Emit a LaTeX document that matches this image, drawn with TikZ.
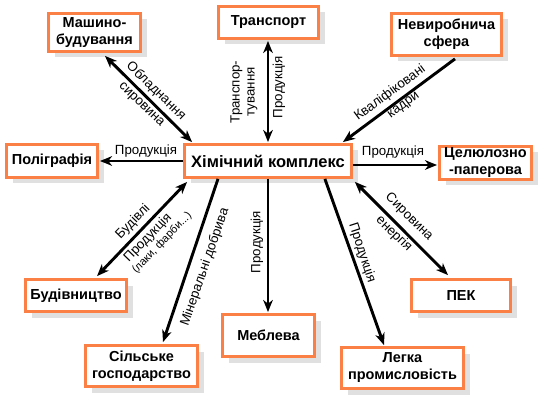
\documentclass[tikz,border=0pt]{standalone}
\usepackage{fontspec}
\setmainfont{Liberation Sans}
\usetikzlibrary{arrows.meta,shadows,calc}
\definecolor{boxorange}{RGB}{250,128,70}
\begin{document}
\begin{tikzpicture}[x=1pt,y=-1pt,
  box/.style={draw=boxorange, line width=2.8pt, fill=white, align=center, inner sep=0pt,
    font=\bfseries\fontsize{14.5}{17}\selectfont,
    drop shadow={shadow xshift=6pt, shadow yshift=-6pt, fill=black!12, opacity=1}},
  tip/.tip={Stealth[length=12pt,width=9.5pt,inset=3.5pt]},
  conn/.style={line width=2.9pt, -tip},
  biconn/.style={line width=2.9pt, tip-tip},
  lbl/.style={font=\fontsize{13.3}{15}\selectfont, inner sep=0pt, align=center},
]
\fill[white] (0,0) rectangle (544,401);
\useasboundingbox (0,0) rectangle (544,401);

% boxes
\node[box, minimum width=92pt, minimum height=38pt] (mash) at (94.5,32.5) {Машино-\\будування};
\node[box, minimum width=100pt, minimum height=32pt] (trans) at (268.5,22.5) {Транспорт};
\node[box, minimum width=110pt, minimum height=42pt] (nevyr) at (446.5,34.5) {Невиробнича\\сфера};
\node[box, minimum width=91pt, minimum height=33pt] (polig) at (52,161) {Поліграфія};
\node[box, minimum width=167pt, minimum height=33pt, font=\bfseries\fontsize{16.5}{18}\selectfont] (him) at (268,161) {Хімічний комплекс};
\node[box, minimum width=92pt, minimum height=33pt] (cel) at (485.5,163) {Целюлозно\\-паперова};
\node[box, minimum width=101pt, minimum height=32pt] (bud) at (76,295.5) {Будівництво};
\node[box, minimum width=112pt, minimum height=41pt] (sil) at (141.5,366) {Сільське\\господарство};
\node[box, minimum width=92pt, minimum height=42pt] (mebl) at (268.5,335.5) {Меблева};
\node[box, minimum width=122pt, minimum height=41pt] (legk) at (402.5,368) {Легка\\промисловість};
\node[box, minimum width=99pt, minimum height=32pt] (pek) at (461,295.5) {ПЕК};

% connectors
\draw[biconn] ($(mash.south)+(10.5,3)$) -- ($(him.north west)+(9,-1)$);
\draw[biconn] ($(trans.south)+(-0.5,1)$) -- ($(him.north)+(0,-1)$);
\draw[conn] ($(nevyr.south)+(8.5,2)$) -- ($(him.north east)+(-10,-1)$);
\draw[conn] (him.west) -- ($(polig.east)+(1,0)$);
\draw[conn] ($(him.east)+(0,4)$) -- ($(cel.west)+(-1,2)$);
\draw[biconn] ($(him.south east)+(2,3)$) -- ($(pek.north)+(-13,-3)$);
\draw[conn] ($(him.south east)+(-28,0)$) -- ($(legk.north)+(-18.5,-1)$);
\draw[conn] (him.south) -- ($(mebl.north)+(-0.5,-1)$);
\draw[conn] ($(him.south)+(-50,0)$) -- ($(sil.north)+(21.5,-2)$);
\draw[biconn] ($(him.south west)+(4,3)$) -- ($(bud.north)+(21,-2)$);

% labels
\node[lbl, rotate=-44] (l1a) at (156,91) {Обладнання};
\node[lbl, rotate=-44] (l1b) at (141,105) {сировина};
\node[lbl, rotate=90] (l2a) at (244,92) {Транспор-\\тування};
\node[lbl, rotate=90] (l2b) at (279,87) {Продукція};
\node[lbl, rotate=36.5] (l3a) at (390,93) {Кваліфіковані};
\node[lbl, rotate=36.5] (l3b) at (404,106) {кадри};
\node[lbl] (l4) at (146,151) {Продукція};
\node[lbl] (l5) at (393,152) {Продукція};
\node[lbl, rotate=-44.4] (l6a) at (409,217) {Сировина};
\node[lbl, rotate=-44.4] (l6b) at (394,234) {енергія};
\node[lbl, rotate=-72] (l7) at (362,253) {Продукція};
\node[lbl, rotate=90] (l8) at (257,242) {Продукція};
\node[lbl, rotate=71] (l9) at (205,267) {Мінеральні добрива};
\node[lbl, rotate=46] (l10a) at (133,222) {Будівлі};
\node[lbl, rotate=46] (l10b) at (148,238) {Продукція};
\node[lbl, rotate=46, font=\fontsize{11}{13}\selectfont] (l10c) at (162,243) {(лаки, фарби...)};
\end{tikzpicture}
\end{document}
